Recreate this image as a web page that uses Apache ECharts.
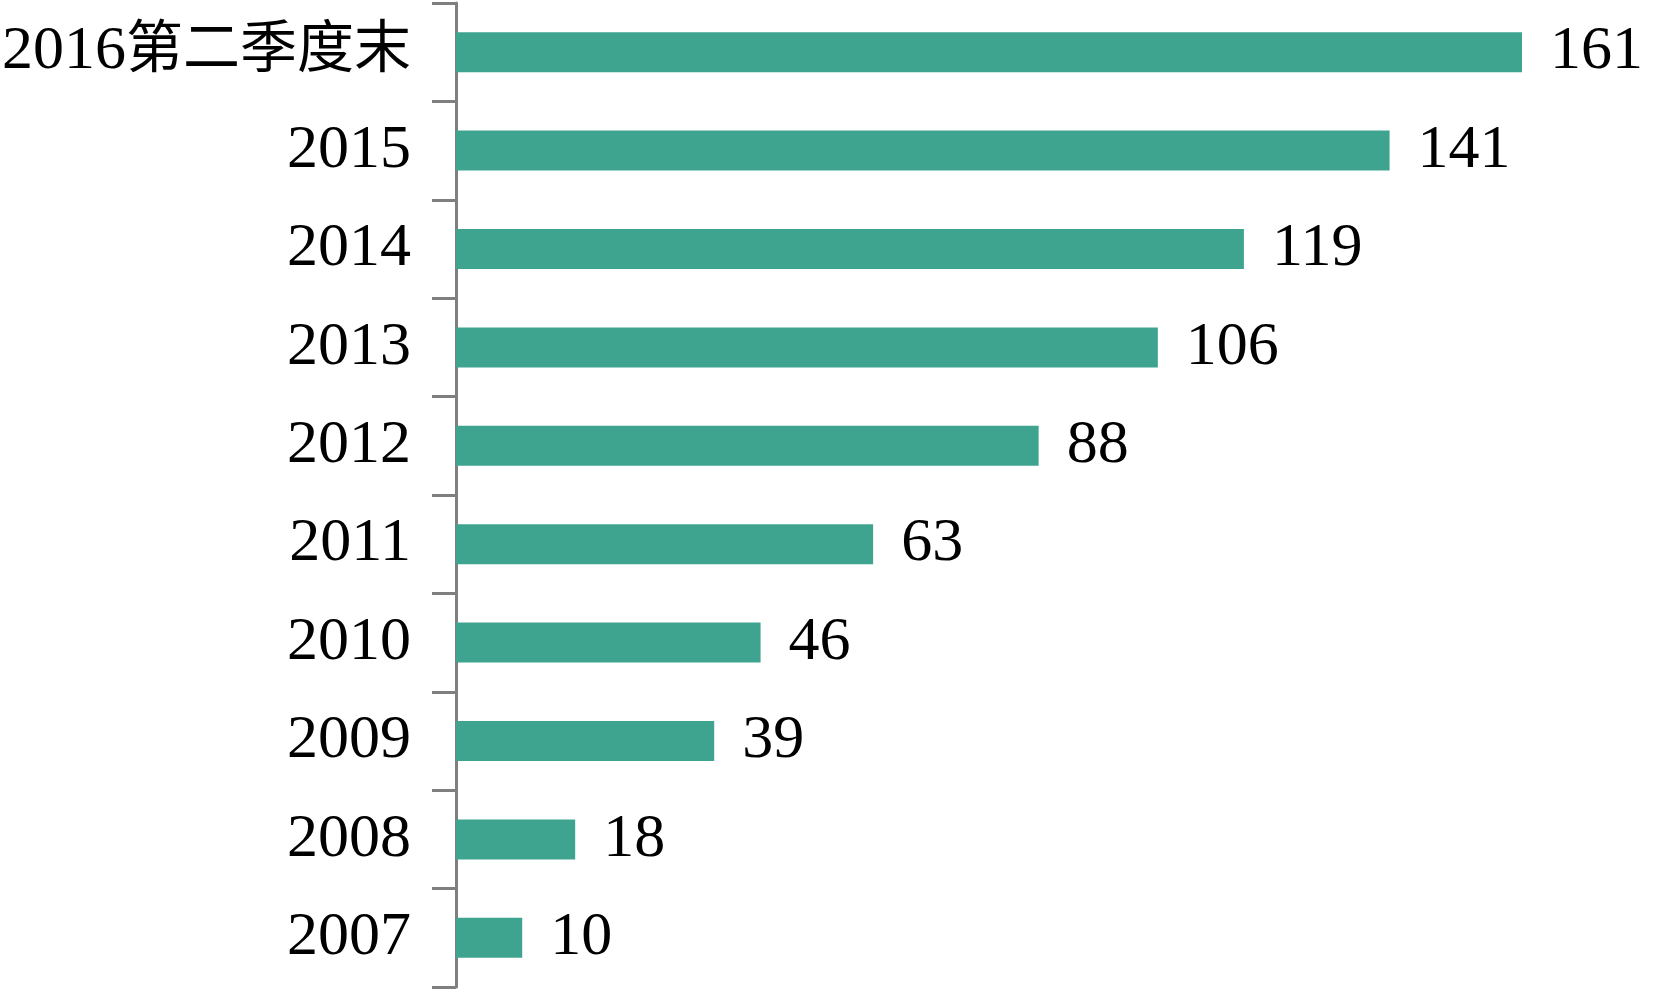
<!DOCTYPE html>
<html>
<head>
<meta charset="utf-8">
<style>
  html, body { margin: 0; padding: 0; background: #fff; }
  #chart { width: 1654px; height: 994px; }
</style>
<script src="https://cdn.jsdelivr.net/npm/echarts@6/dist/echarts.min.js"></script>
</head>
<body>
<div id="chart"></div>
<script>
  // bottom to top, as the category axis draws them
  const categories = ['2007', '2008', '2009', '2010', '2011', '2012', '2013', '2014', '2015', '2016第二季度末']
  const values = [10, 18, 39, 46, 63, 88, 106, 119, 141, 161]

  const serif = '"Liberation Serif", "Noto Sans CJK SC", serif'

  const chart = echarts.init(document.getElementById('chart'))
  chart.setOption({
    animation: false,
    grid: {
      left: 456,
      right: 132,
      top: 3,
      bottom: 7,
      outerBoundsMode: 'none',
      containLabel: false
    },
    xAxis: {
      type: 'value',
      min: 0,
      max: 161,
      show: false
    },
    yAxis: {
      type: 'category',
      data: categories,
      axisLine: {
        show: true,
        lineStyle: { color: '#7f7f7f', width: 3 }
      },
      axisTick: {
        show: true,
        length: 24,
        lineStyle: { color: '#7f7f7f', width: 3 }
      },
      axisLabel: {
        margin: 45,
        color: '#000',
        fontSize: 62,
        fontFamily: serif,
        // digits and CJK part are sized a little differently
        formatter: function (v) {
          const m = v.match(/^(\d+)(.*)$/)
          if (m && m[2]) return '{n|' + m[1] + '}{c|' + m[2] + '}'
          return '{n|' + v + '}'
        },
        rich: {
          n: { fontSize: 62, fontFamily: serif, color: '#000' },
          c: { fontSize: 57, fontFamily: serif, color: '#000' }
        }
      },
      splitLine: { show: false }
    },
    series: [
      {
        type: 'bar',
        data: values,
        barWidth: 40,
        itemStyle: { color: '#3fa48f' },
        label: {
          show: true,
          position: 'right',
          distance: 28,
          color: '#000',
          fontSize: 62,
          fontFamily: serif
        }
      }
    ]
  })
</script>
</body>
</html>
